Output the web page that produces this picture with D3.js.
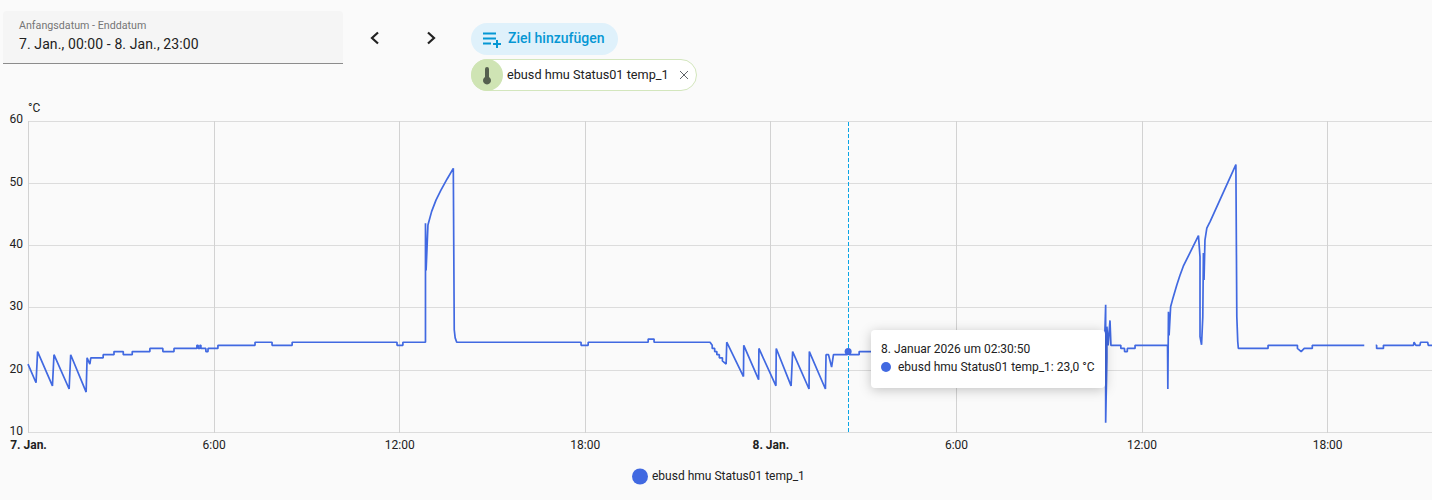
<!DOCTYPE html>
<html lang="de">
<head>
<meta charset="utf-8">
<script src="https://cdn.jsdelivr.net/npm/d3@7"></script>
<style>
html, body { margin: 0; padding: 0; background: #fafafa; overflow: hidden; }
svg { display: block; font-family: Roboto, sans-serif; }
.axis path { display: none; }
.axis text { font-family: Roboto, sans-serif; font-size: 12px; fill: #212121; }
</style>
</head>
<body>
<div id="chart"></div>
<script>
// hours since 7 Jan 00:00 (null temp = gap in the recording)
var hours = [
  0, 0.26, 0.31, 0.79, 0.84, 1.33, 1.38, 1.88, 1.91, 2.00, 2.03, 2.43, 2.43, 2.78, 2.78, 3.08, 3.08, 3.37, 3.37, 3.94, 3.94,
  4.36, 4.36, 4.72, 4.72, 5.46, 5.46, 5.50, 5.50, 5.56, 5.56, 5.59, 5.59, 5.75, 5.75, 5.82, 5.82, 6.14, 6.14,
  7.34, 7.34, 7.89, 7.89, 8.54, 8.54, 11.93, 11.93, 12.12, 12.12, 12.85, 12.85, 12.87, 12.93, 13.05, 13.19, 13.35, 13.55, 13.75, 13.78, 13.81, 13.86,
  17.88, 17.88, 18.11, 18.11, 20.05, 20.05, 20.24, 20.24, 22.05, 22.12, 22.12, 22.20, 22.20, 22.27, 22.27, 22.35, 22.35, 22.45, 22.45, 22.57,
  22.59, 23.13, 23.14, 23.62, 23.63, 24.18, 24.19, 24.67, 24.72, 25.25, 25.26, 25.78, 25.80, 25.88, 25.98, 26.04,
  26.49, 26.50, 26.53, 26.55, 26.87, 26.87, 29.5, 29.5, 31.2, 31.2, 33.6, 33.6, 34.80, 34.84, 34.84, 34.88, 34.88, 34.92, 34.98, 35.01,
  35.33, 35.33, 35.45, 35.45, 35.54, 35.54, 35.79, 35.79, 36.84, 36.85, 36.87, 36.89, 36.94, 37.00, 37.14, 37.24, 37.35, 37.56, 37.84, 37.89, 37.89, 37.94, 37.98, 38.00, 38.02, 38.05, 38.11, 38.22, 39.05, 39.08, 39.11, 39.13,
  40.09, 40.09, 41.04, 41.04, 41.16, 41.26, 41.52, 41.52, 43.20, 43.40, 43.57, 43.60, 43.60, 43.82, 43.82, 44.79, 44.81, 44.87, 45.00, 45.02, 45.25, 45.27, 45.40
];
var temps = [
  21, 18, 23, 17.5, 22.5, 17, 22.5, 16.5, 22, 21, 22, 22, 22.5, 22.5, 23, 23, 22.5, 22.5, 23, 23, 23.5,
  23.5, 23, 23, 23.5, 23.5, 24, 24, 23.5, 23.5, 24, 24, 23.5, 23.5, 23, 23, 23.5, 23.5, 24,
  24, 24.5, 24.5, 24, 24, 24.5, 24.5, 24, 24, 24.5, 24.5, 43.6, 36, 43.3, 45.5, 47.3, 48.9, 50.7, 52.4, 26.5, 25.2, 24.5,
  24.5, 24, 24, 24.5, 24.5, 25, 25, 24.5, 24.5, 24, 23.5, 23.5, 23, 23, 22.5, 22.5, 22, 22, 21.5, 21,
  24.5, 19, 24, 18.5, 23.5, 17.5, 23.5, 17.5, 23, 17, 23, 17, 22.5, 22.5, 20.5, 22.5,
  22.5, 23, 23, 22.5, 22.5, 23, 23, 23.5, 23.5, 23, 23, 23.5, 23.5, 30.5, 11.6, 22, 27, 24, 28, 24,
  24, 23.5, 23.5, 23, 23, 23.5, 23.5, 24, 24, 17, 29.4, 25.6, 30.2, 31.3, 33.7, 35.2, 36.7, 38.8, 41.6, 38.2, 25.4, 24.1, 28.6, 38.8, 34.5, 40.9, 42.8, 43.9, 53, 28.6, 24.6, 23.5,
  23.5, 24, 24, 23.5, 23, 23.5, 23.5, 24, 24, null, 24, 24, 23.5, 23.5, 24, 24, 24.5, 24, 24, 24.5, 24.5, 24, 24
];
var yTicks = [10, 20, 30, 40, 50, 60];
var xTicks = [0, 6, 12, 18, 24, 30, 36, 42];
var xTickLabels = ["7. Jan.", "6:00", "12:00", "18:00", "8. Jan.", "6:00", "12:00", "18:00"];
var seriesName = "ebusd hmu Status01 temp_1";
var dateRange = "7. Jan., 00:00 - 8. Jan., 23:00";
var hoverHour = 26.514, hoverTemp = 23.0;
var hoverTitle = "8. Januar 2026 um 02:30:50";
var hoverValue = seriesName + ": 23,0 °C";

var width = 1432, height = 500;
var lineColor = "#4169e1", accent = "#0597d4";

var svg = d3.select("#chart").append("svg").attr("width", width).attr("height", height);

var x = d3.scaleLinear().domain([0, 45.39]).range([28, 1432]);
var y = d3.scaleLinear().domain([10, 60]).range([432.6, 121]);

// --- toolbar ---
var picker = svg.append("g");
picker.append("path").attr("d", "M3,63V15a4,4 0 0 1 4,-4H339a4,4 0 0 1 4,4V63Z").attr("fill", "#f5f5f5");
picker.append("line").attr("x1", 3).attr("x2", 343).attr("y1", 63.5).attr("y2", 63.5).attr("stroke", "#8c8c8c");
picker.append("text").attr("x", 19).attr("y", 29).attr("font-size", 10.7).attr("fill", "#757575").text("Anfangsdatum - Enddatum");
picker.append("text").attr("x", 19).attr("y", 49).attr("font-size", 14).attr("letter-spacing", 0.1).attr("fill", "#212121").text(dateRange);

svg.append("path").attr("d", "M378,32.5l-6,5.5l6,5.5").attr("fill", "none").attr("stroke", "#212121").attr("stroke-width", 2.2);
svg.append("path").attr("d", "M428,32.5l6,5.5l-6,5.5").attr("fill", "none").attr("stroke", "#212121").attr("stroke-width", 2.2);

var addBtn = svg.append("g");
addBtn.append("rect").attr("x", 471).attr("y", 23).attr("width", 147).attr("height", 32).attr("rx", 16).attr("fill", "#dff1fb");
addBtn.append("path").attr("d", "M483,33.5h13M483,38.5h13M483,43.5h8M497,40v8M493,44h8").attr("stroke", accent).attr("stroke-width", 2).attr("fill", "none");
addBtn.append("text").attr("x", 508).attr("y", 43).attr("font-size", 14).attr("font-weight", 500).attr("fill", accent).text("Ziel hinzufügen");

var chip = svg.append("g");
chip.append("rect").attr("x", 471.5).attr("y", 59.5).attr("width", 225).attr("height", 31).attr("rx", 15.5).attr("fill", "#ffffff").attr("stroke", "#d3e6bd");
chip.append("circle").attr("cx", 487).attr("cy", 75).attr("r", 16).attr("fill", "#cfe4b4");
chip.append("path").attr("d", "M485,69a2,2 0 0 1 4,0v8a4,4 0 1 1 -4,0Z").attr("fill", "#55604f");
chip.append("text").attr("x", 507).attr("y", 79).attr("font-size", 12.7).attr("fill", "#212121").text(seriesName);
chip.append("path").attr("d", "M680,71l8,8M688,71l-8,8").attr("stroke", "#5f6368").attr("stroke-width", 1);

// --- axes and grid ---
var yAxis = d3.axisLeft(y).tickValues(yTicks).tickSize(0).tickPadding(5);
var xAxis = d3.axisBottom(x).tickValues(xTicks).tickSize(0).tickPadding(7)
  .tickFormat(function(d, i) { return xTickLabels[i]; });

svg.append("g").selectAll("line").data(yTicks).enter().append("line")
  .attr("x1", 28).attr("x2", width)
  .attr("y1", function(d) { return Math.floor(y(d)) + 0.5; })
  .attr("y2", function(d) { return Math.floor(y(d)) + 0.5; })
  .attr("stroke", "#dcdcdc");
svg.append("g").selectAll("line").data(xTicks).enter().append("line")
  .attr("y1", 121).attr("y2", 433)
  .attr("x1", function(d) { return Math.round(x(d)) + 0.5; })
  .attr("x2", function(d) { return Math.round(x(d)) + 0.5; })
  .attr("stroke", "#d2d2d2");

svg.append("g").attr("class", "axis").attr("transform", "translate(28,-2)").call(yAxis);
var xg = svg.append("g").attr("class", "axis").attr("transform", "translate(0,433)").call(xAxis);
xg.selectAll("text").style("font-weight", function(d) { return d % 24 === 0 ? 700 : 400; });

svg.append("text").attr("x", 28).attr("y", 112).attr("font-size", 12).attr("fill", "#212121").text("°C");

// --- series ---
var points = hours.map(function(h, i) { return {h: h, t: temps[i]}; });
var line = d3.line()
  .defined(function(d) { return d.t !== null; })
  .x(function(d) { return x(d.h); })
  .y(function(d) { return y(d.t); });
svg.append("path").datum(points).attr("d", line)
  .attr("fill", "none").attr("stroke", lineColor).attr("stroke-width", 1.7).attr("stroke-linejoin", "bevel");

// --- hover crosshair ---
svg.append("line").attr("x1", 848.5).attr("x2", 848.5).attr("y1", 122).attr("y2", 433)
  .attr("stroke", "#0aa5e6").attr("stroke-dasharray", "4,2");
svg.append("circle").attr("cx", x(hoverHour)).attr("cy", y(hoverTemp)).attr("r", 3.5).attr("fill", lineColor);

// --- tooltip ---
var tip = svg.append("g");
tip.append("rect").attr("x", 871).attr("y", 330).attr("width", 234).attr("height", 58).attr("rx", 4)
  .attr("fill", "#ffffff").style("filter", "drop-shadow(0 2px 6px rgba(0,0,0,0.22))");
tip.append("text").attr("x", 881).attr("y", 353).attr("font-size", 12).attr("fill", "#212121").text(hoverTitle);
tip.append("circle").attr("cx", 886).attr("cy", 367).attr("r", 5).attr("fill", lineColor);
tip.append("text").attr("x", 898).attr("y", 371).attr("font-size", 12).attr("fill", "#212121").text(hoverValue);

// --- legend ---
svg.append("circle").attr("cx", 640).attr("cy", 476.5).attr("r", 8).attr("fill", lineColor);
svg.append("text").attr("x", 652).attr("y", 480).attr("font-size", 12).attr("fill", "#212121").text(seriesName);
</script>
</body>
</html>
